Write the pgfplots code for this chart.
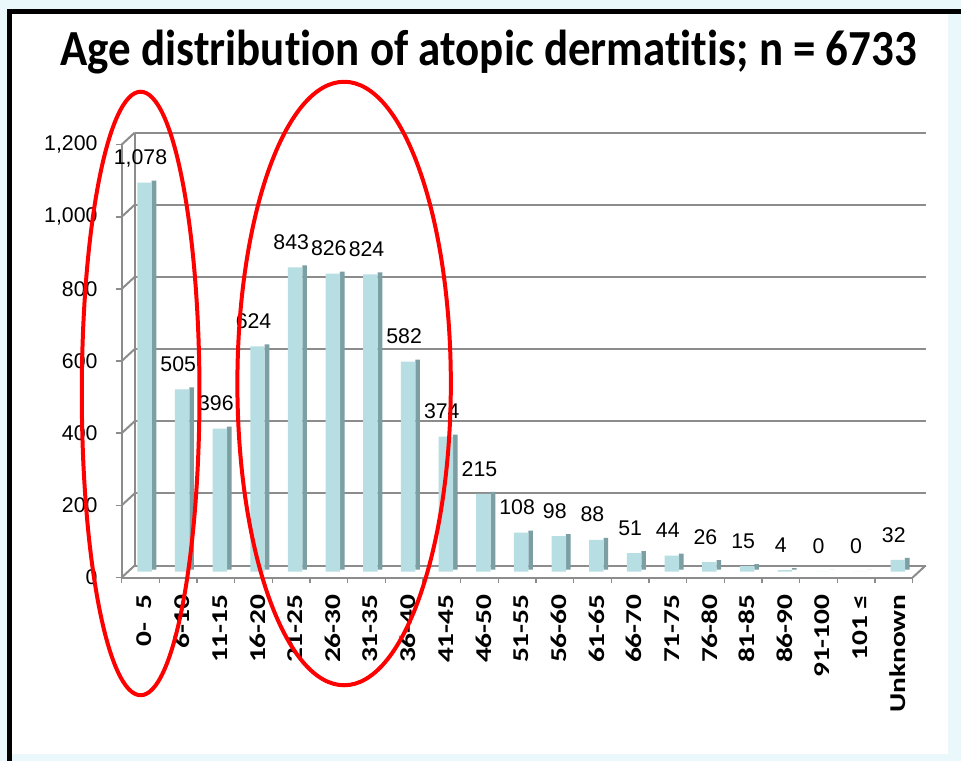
\documentclass[border=0pt]{standalone}
\usepackage{pgfplots}
\pgfplotsset{compat=1.18}
\usepackage{pgfplotstable}
\usepackage{fontspec}
\setmainfont{Liberation Sans}
\newfontfamily\titlefont[FakeStretch=0.89, Ligatures=NoCommon]{Carlito}
\newfontfamily\xlabfont[FakeStretch=1.3, Ligatures=NoCommon]{Carlito}
\definecolor{barfront}{HTML}{B6DEE3}
\definecolor{barside}{HTML}{7C9FA3}
\definecolor{gridgray}{HTML}{8C8C8C}
\definecolor{bgblue}{HTML}{EAF7FB}

\pgfplotstableread{
x y
0 1078
1 505
2 396
3 624
4 843
5 826
6 824
7 582
8 374
9 215
10 108
11 98
12 88
13 51
14 44
15 26
16 15
17 4
18 0
19 0
20 32
}\agedata

\begin{document}
\begin{tikzpicture}
\begin{scope}[x=0.75pt,y=-0.75pt]
\fill[bgblue] (0,0) rectangle (963,763);
\fill[white] (12,14) rectangle (950,756);
\draw[black, line width=3.75pt] (10,763) -- (10,12) -- (963,12);
\node[anchor=base, inner sep=0pt] at (490,66) {\titlefont\bfseries\fontsize{38}{38}\selectfont Age distribution of atopic dermatitis; n = 6733};
\end{scope}
\begin{axis}[
  at={(91.5pt,-434.25pt)}, anchor=south west,
  scale only axis, width=594.75pt, height=325.5pt,
  xmin=-0.5, xmax=20.5, ymin=0, ymax=1200,
  axis x line=bottom, axis y line=left,
  axis line style={-, gridgray, line width=1.5pt},
  ytick={0,200,...,1200},
  xtick={0,...,20},
  minor xtick={-0.5,0.5,...,20.5},
  xticklabels={{0-\ \ 5},{6-10},{11-15},{16-20},{21-25},{26-30},{31-35},{36-40},{41-45},{46-50},{51-55},{56-60},{61-65},{66-70},{71-75},{76-80},{81-85},{86-90},{91-100},{101 ≤},{Unknown}},
  tick align=outside,
  major tick length=4.5pt, minor tick length=4.5pt,
  every major x tick/.append style={draw=none},
  every minor x tick/.append style={gridgray, line width=1.2pt},
  every major y tick/.append style={gridgray, line width=1.2pt},
  ymajorgrids,
  major grid style={gridgray, line width=1.5pt, xshift=9.75pt, yshift=9pt},
  /pgf/number format/1000 sep={,},
  /pgf/number format/assume math mode=true,
  yticklabel style={font=\fontsize{16}{16}\selectfont, anchor=east, inner sep=0pt, xshift=-13.5pt},
  xticklabel style={font=\xlabfont\bfseries\fontsize{17}{17}\selectfont, xshift=3pt, yshift=-8pt, rotate=90, anchor=east, inner sep=0pt},
  clip=false,
]
\draw[gridgray, line width=1.5pt] (axis cs:-0.5,0) ++(9.75pt,9pt) -- ([xshift=9.75pt,yshift=9pt]axis cs:-0.5,1200);
\pgfplotsinvokeforeach{0,200,400,600,800,1000,1200}{
  \draw[gridgray, line width=1.5pt] (axis cs:-0.5,#1) -- ++(9.75pt,9pt);
}
\draw[gridgray, line width=1.5pt] (axis cs:20.5,0) -- ++(9.75pt,9pt);
\addplot[ybar, bar width=3.5pt, bar shift=10.1pt, fill=barside, draw=none, yshift=6pt] table[x=x,y=y] {\agedata};
\addplot[ybar, bar width=10.9pt, bar shift=3pt, fill=barfront, draw=none, yshift=4.5pt,
  nodes near coords,
  every node near coord/.append style={font=\fontsize{16}{16}\selectfont, anchor=base, inner sep=0pt, yshift=13.5pt, text=black}]
  table[x=x,y=y] {\agedata};
\end{axis}
\begin{scope}[x=0.75pt,y=-0.75pt]
\draw[red, line width=3pt] (141,394.5) ellipse [x radius=44.25pt, y radius=226.9pt];
\draw[red, line width=3pt] (345,384.5) ellipse [x radius=80.25pt, y radius=226.9pt];
\end{scope}
\end{tikzpicture}
\end{document}
